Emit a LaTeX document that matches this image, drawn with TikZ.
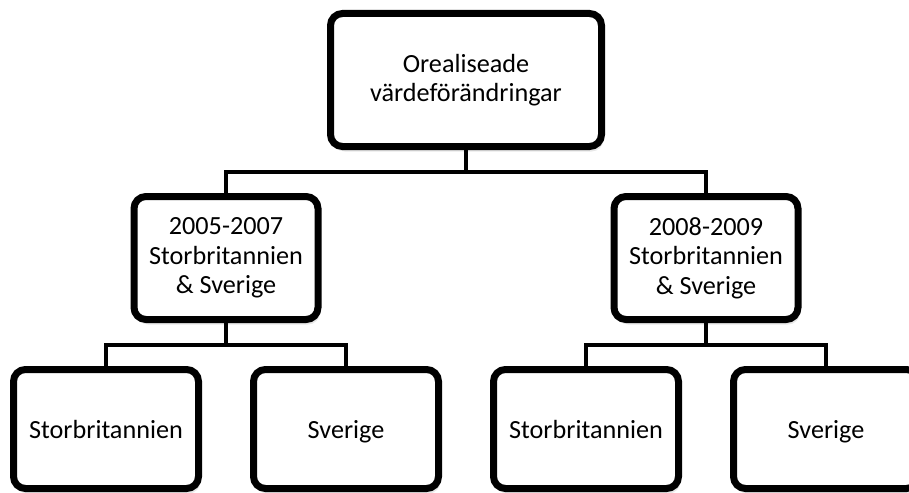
\documentclass[tikz,border=0pt]{standalone}
\usepackage{fontspec}
\setmainfont{Carlito}
\usepackage{tikz}
\usetikzlibrary{calc,shadows}

\tikzset{
  unit/.style={draw=black, line width=7pt, rounded corners=12pt, fill=white,
    align=center, inner sep=0pt, font=\fontsize{26.2}{29.5}\selectfont,
    drop shadow={shadow xshift=2pt, shadow yshift=-5pt, opacity=0.18}},
  topunit/.style={unit, minimum width=271pt, minimum height=133pt},
  midunit/.style={unit, minimum width=184pt, minimum height=123pt},
  lowunit/.style={unit, minimum width=185pt, minimum height=119pt,
    text height=24pt, text depth=6pt}
}

\begin{document}
\begin{tikzpicture}[x=1pt,y=1pt,
    edge from parent/.style={draw, line width=4pt},
    edge from parent path={(\tikzparentnode.south) |- ($(\tikzparentnode.south)!0.5!(\tikzchildnode.north)$) -| (\tikzchildnode.north)},
    level 1/.style={level distance=178pt, sibling distance=480pt},
    level 2/.style={level distance=171pt, sibling distance=240pt}]
  \useasboundingbox (0,0) rectangle (909,-492);
  \node[topunit] (vard) at (466,-80) {Orealiseade\\värdeförändringar}
  child {
    node[midunit] (tidig) {2005-2007\\Storbritannien\\\& Sverige}
    child {
      node[lowunit] (tidiguk) {Storbritannien}
    }
    child {
      node[lowunit] (tidigse) {Sverige}
    }
  }
  child {
    node[midunit] (sen) {2008-2009\\Storbritannien\\\& Sverige}
    child {
      node[lowunit] (senuk) {Storbritannien}
    }
    child {
      node[lowunit] (sense) {Sverige}
    }
  }
  ;
\end{tikzpicture}
\end{document}
